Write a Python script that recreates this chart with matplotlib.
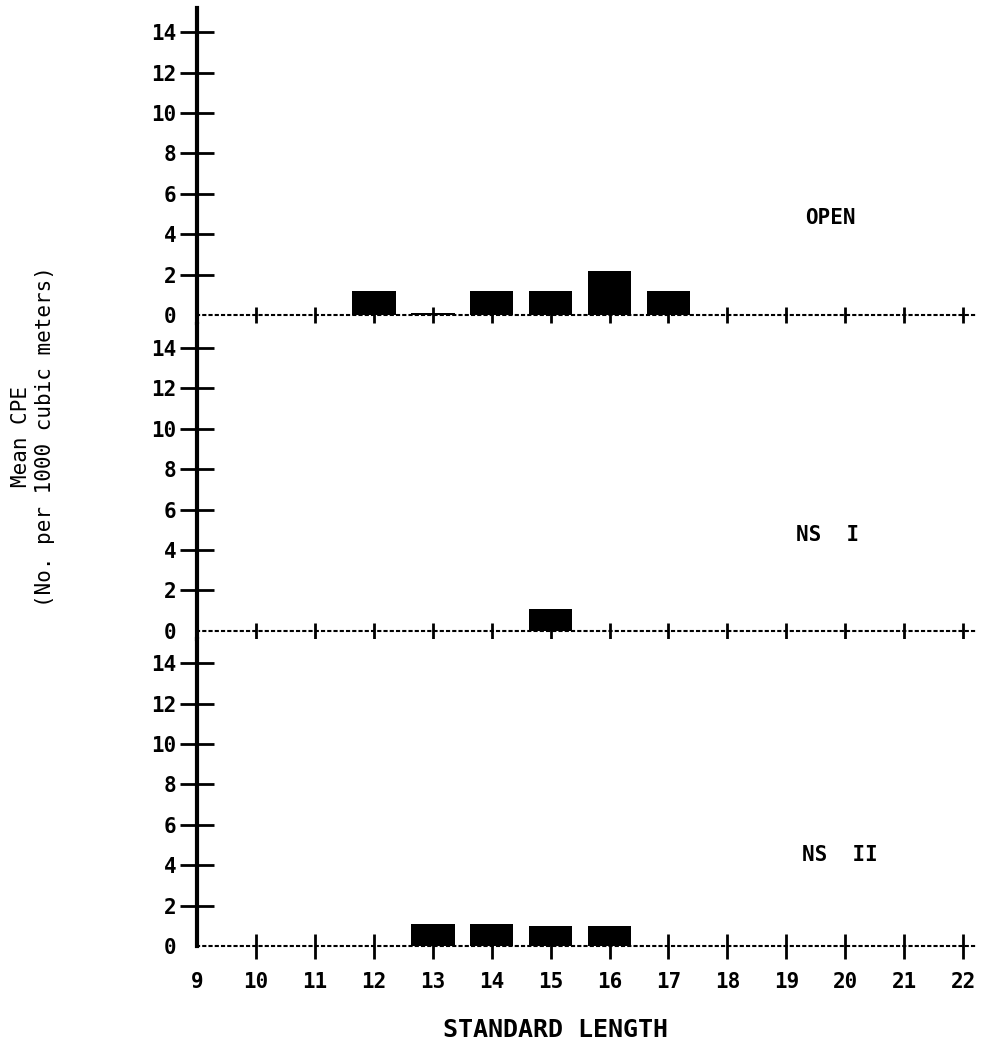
import matplotlib
matplotlib.use("Agg")
import matplotlib.pyplot as plt

# standard length classes (x axis)
lengths = list(range(9, 23))

# mean CPE per station
open_x = [12, 13, 14, 15, 16, 17]
open_y = [1.2, 0.1, 1.2, 1.2, 2.2, 1.2]

ns1_x = [15]
ns1_y = [1.1]

ns2_x = [13, 14, 15, 16]
ns2_y = [1.1, 1.1, 1.0, 1.0]

panel_names = ["OPEN", "NS  I", "NS  II"]
yticks = [0, 2, 4, 6, 8, 10, 12, 14]

mono = "DejaVu Sans Mono"

fig = plt.figure(figsize=(9.86, 10.4), dpi=100)

bottoms = [0.6894, 0.3856, 0.0827]
panels = [(open_x, open_y), (ns1_x, ns1_y), (ns2_x, ns2_y)]
label_pos = [(19.75, 4.8), (19.7, 4.75), (19.9, 4.5)]

for i, (bx, by) in enumerate(panels):
    ax = fig.add_axes([0.1998, bottoms[i], 0.789, 0.303])
    ax.bar(bx, by, width=0.74, color="black", zorder=2)

    ax.set_xlim(9, 22.2)
    ax.set_ylim(-0.4, 15.2)

    for s in ["top", "right"]:
        ax.spines[s].set_visible(False)
    ax.spines["left"].set_linewidth(3)
    if i < 2:
        ax.spines["left"].set_bounds(-0.4, 15.2)
    else:
        ax.spines["left"].set_bounds(0, 15.2)
    ax.spines["bottom"].set_position(("data", 0))
    ax.spines["bottom"].set_linestyle((0, (1, 2)))
    ax.spines["bottom"].set_linewidth(1.5)
    ax.spines["bottom"].set_bounds(9, 22.2)

    ax.set_yticks(yticks)
    ax.set_yticklabels([str(v) for v in yticks], fontfamily=mono,
                       fontweight="bold", fontsize=15)
    ax.tick_params(axis="y", direction="inout", length=24, width=2, pad=3)
    # no tick mark at zero, only the label
    ax.yaxis.get_major_ticks()[0].tick1line.set_visible(False)

    ax.set_xticks(lengths)
    if i < 2:
        ax.tick_params(axis="x", direction="inout", length=11, width=2,
                       labelbottom=False)
    else:
        ax.set_xticklabels([str(v) for v in lengths], fontfamily=mono,
                           fontweight="bold", fontsize=15)
        ax.tick_params(axis="x", direction="inout", length=18, width=2, pad=10)
    ax.xaxis.get_major_ticks()[0].tick1line.set_visible(False)

    ax.text(label_pos[i][0], label_pos[i][1], panel_names[i], ha="center",
            va="center", fontfamily=mono, fontweight="bold", fontsize=15)

fig.text(0.563, 0.01, "STANDARD LENGTH", ha="center", va="center",
         fontfamily=mono, fontsize=18, fontweight="bold")
fig.text(0.021, 0.58, "Mean CPE", rotation=90, ha="center", va="center",
         fontfamily=mono, fontsize=15)
fig.text(0.046, 0.58, "(No. per 1000 cubic meters)", rotation=90,
         ha="center", va="center", fontfamily=mono, fontsize=15)

fig.savefig("out.png", dpi=100)
